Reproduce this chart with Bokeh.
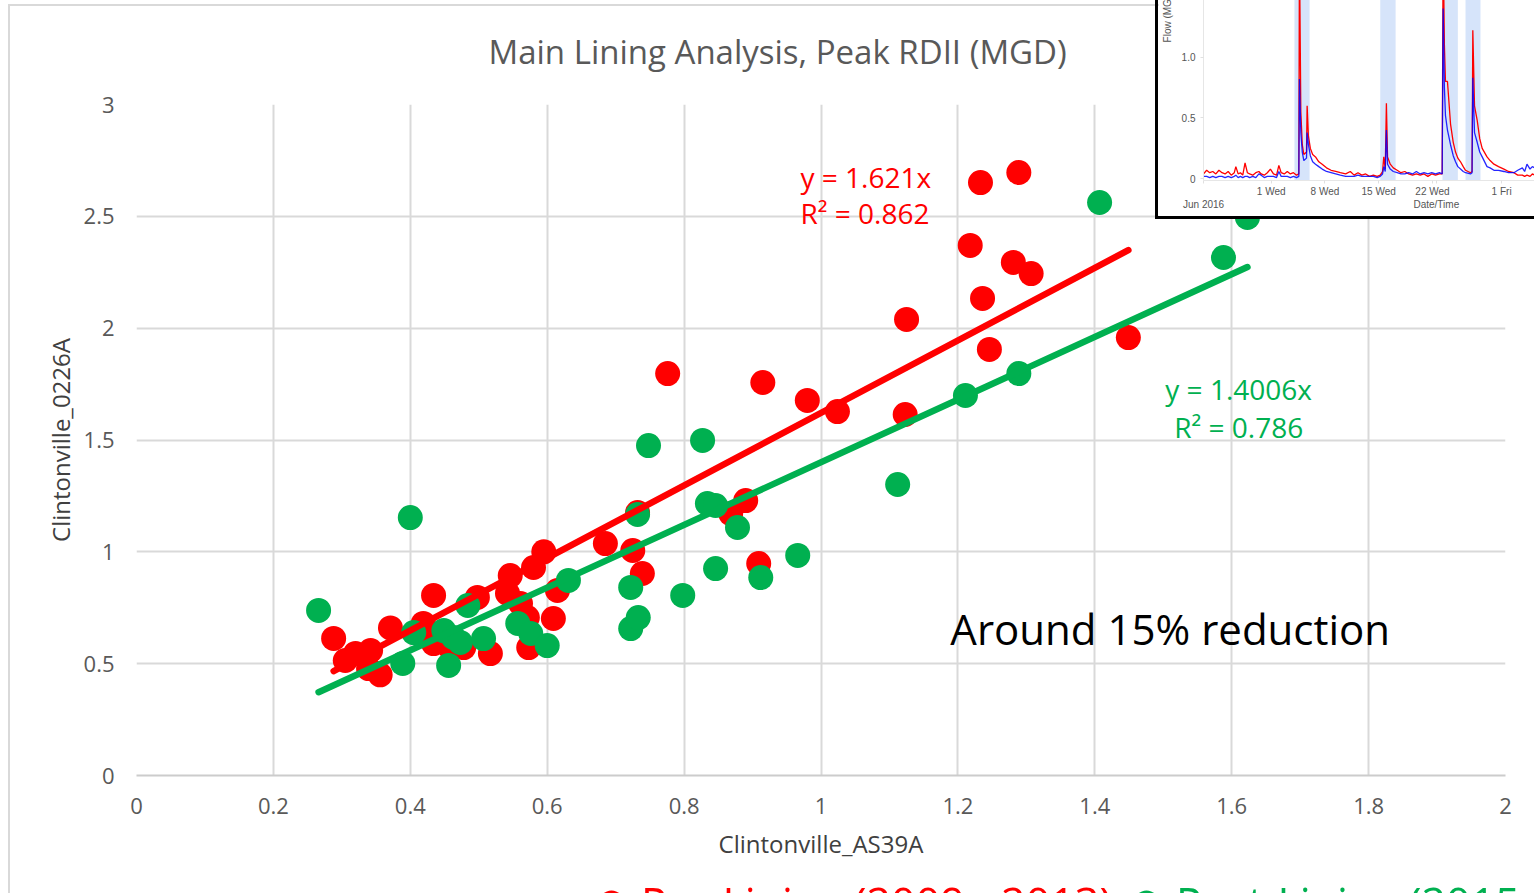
from bokeh.plotting import figure
from bokeh.models import Range1d, Label, FixedTicker, Legend, LegendItem, BoxAnnotation
from bokeh.embed import file_html
from bokeh.resources import INLINE

# ---------------- main scatter data ----------------
pre_x = [0.288, 0.305, 0.320, 0.339, 0.342, 0.356, 0.371, 0.419, 0.434, 0.434, 0.459,
         0.478, 0.498, 0.517, 0.542, 0.546, 0.561, 0.571, 0.573, 0.580, 0.595, 0.609,
         0.615, 0.685, 0.725, 0.732, 0.739, 0.776, 0.868, 0.890, 0.909, 0.915, 0.980,
         1.024, 1.123, 1.125, 1.218, 1.233, 1.236, 1.246, 1.281, 1.289, 1.307, 1.449]
pre_y = [0.613, 0.514, 0.546, 0.478, 0.559, 0.450, 0.660, 0.680, 0.805, 0.590, 0.568,
         0.572, 0.796, 0.545, 0.814, 0.894, 0.769, 0.706, 0.572, 0.930, 1.000, 0.702,
         0.827, 1.037, 1.006, 1.176, 0.903, 1.797, 1.171, 1.229, 0.948, 1.757, 1.677,
         1.627, 1.614, 2.039, 2.370, 2.651, 2.133, 1.905, 2.294, 2.696, 2.244, 1.958]
post_x = [0.266, 0.389, 0.400, 0.405, 0.449, 0.456, 0.463, 0.473, 0.484, 0.507, 0.557,
          0.576, 0.600, 0.631, 0.722, 0.722, 0.732, 0.733, 0.748, 0.798, 0.827, 0.834,
          0.846, 0.846, 0.878, 0.912, 0.966, 1.112, 1.211, 1.289, 1.407, 1.588, 1.623]
post_y = [0.738, 0.501, 1.153, 0.639, 0.648, 0.492, 0.617, 0.595, 0.760, 0.612, 0.680,
          0.635, 0.581, 0.872, 0.841, 0.657, 1.167, 0.706, 1.475, 0.805, 1.498, 1.216,
          1.207, 0.925, 1.109, 0.885, 0.984, 1.301, 1.699, 1.797, 2.562, 2.316, 2.495]
pre_slope = 1.621
pre_r2 = 0.862
post_slope = 1.4006
post_r2 = 0.786
x_ticks = [0, 0.2, 0.4, 0.6, 0.8, 1.0, 1.2, 1.4, 1.6, 1.8, 2.0]
y_ticks = [0, 0.5, 1.0, 1.5, 2.0, 2.5, 3.0]
title_text = "Main Lining Analysis, Peak RDII (MGD)"
pre_label = "Pre-Lining (2009 - 2013)"
post_label = "Post-Lining (2015 - 2016)"

# ---------------- inset (flow time series, days from 1 Jun 2016) ----------------
flow_days = [-8.8, -8.4, -8.0, -7.6, -7.2, -6.8, -6.4, -6.0, -5.6, -5.2, -4.8, -4.6, -4.3,
             -4.0, -3.7, -3.4, -3.1, -2.8, -2.4, -2.0, -1.6, -1.3, -0.9, -0.5, -0.1, 0.3,
             0.7, 1.0, 1.3, 1.7, 2.1, 2.5, 2.9, 3.3, 3.6, 3.68, 3.86, 4.05, 4.25, 4.6, 4.68,
             4.85, 5.1, 5.4, 5.77, 6.2, 6.64, 7.2, 7.8, 8.4, 9.0, 9.7, 10.3, 10.8, 11.3,
             11.8, 12.3, 12.8, 13.3, 13.8, 14.2, 14.5, 14.66, 14.85, 15.0, 15.15, 15.5,
             15.9, 16.4, 16.9, 17.4, 17.9, 18.4, 18.9, 19.4, 19.9, 20.4, 20.9, 21.4, 21.9,
             22.26, 22.39, 22.55, 22.69, 22.95, 23.35, 23.7, 24.0, 24.3, 24.65, 25.0, 25.3,
             25.95, 26.15, 26.25, 26.47, 26.82, 27.15, 27.47, 28.1, 28.5, 29.0, 29.6, 30.3,
             30.9, 31.6, 32.1, 32.7, 33.0, 33.3, 33.7, 34.0, 34.3]
flow_red = [0.04, 0.07, 0.05, 0.06, 0.04, 0.07, 0.05, 0.04, 0.06, 0.03, 0.05, 0.10, 0.04,
            0.05, 0.03, 0.13, 0.05, 0.04, 0.03, 0.05, 0.06, 0.04, 0.03, 0.05, 0.08, 0.04,
            0.03, 0.11, 0.05, 0.04, 0.06, 0.04, 0.05, 0.03, 0.04, 1.90, 0.55, 0.28, 0.20,
            0.22, 0.60, 0.35, 0.25, 0.20, 0.18, 0.14, 0.12, 0.09, 0.07, 0.06, 0.05, 0.04,
            0.06, 0.03, 0.05, 0.03, 0.04, 0.02, 0.03, 0.02, 0.03, 0.06, 0.18, 0.08, 0.62,
            0.18, 0.12, 0.09, 0.07, 0.05, 0.06, 0.04, 0.03, 0.04, 0.03, 0.04, 0.02, 0.04,
            0.03, 0.04, 0.04, 1.95, 1.10, 0.80, 0.80, 0.45, 0.30, 0.22, 0.17, 0.14, 0.10,
            0.07, 0.05, 0.06, 1.22, 0.60, 0.48, 0.33, 0.25, 0.18, 0.15, 0.12, 0.10, 0.08,
            0.06, 0.05, 0.03, 0.03, 0.02, 0.03, 0.02, 0.04, 0.03]
flow_blue = [0.02, 0.02, 0.01, 0.02, 0.01, 0.02, 0.02, 0.01, 0.02, 0.01, 0.02, 0.03, 0.01,
             0.02, 0.01, 0.02, 0.02, 0.01, 0.02, 0.01, 0.04, 0.03, 0.01, 0.02, 0.02, 0.02,
             0.01, 0.06, 0.02, 0.02, 0.02, 0.01, 0.02, 0.01, 0.02, 0.82, 0.38, 0.22, 0.15,
             0.17, 0.38, 0.28, 0.19, 0.14, 0.12, 0.10, 0.08, 0.06, 0.05, 0.04, 0.03, 0.02,
             0.02, 0.02, 0.03, 0.02, 0.02, 0.02, 0.02, 0.01, 0.02, 0.04, 0.10, 0.06, 0.40,
             0.12, 0.08, 0.06, 0.05, 0.04, 0.04, 0.05, 0.04, 0.06, 0.04, 0.05, 0.04, 0.05,
             0.04, 0.05, 0.04, 1.40, 0.75, 0.52, 0.40, 0.28, 0.19, 0.14, 0.10, 0.08, 0.06,
             0.05, 0.04, 0.05, 0.83, 0.38, 0.30, 0.22, 0.18, 0.10, 0.09, 0.07, 0.07, 0.06,
             0.05, 0.05, 0.07, 0.09, 0.06, 0.12, 0.08, 0.10, 0.09]
rain_start = [3.03, 14.2, 22.3, 25.3]
rain_end = [5.0, 16.2, 24.3, 27.25]
inset_x_ticks = [-8.8, 0, 7, 14, 21, 21.5, 30]
inset_x_labels = ["\nJun 2016", "1 Wed", "8 Wed", "15 Wed", "22 Wed", "\nDate/Time", "1 Fri"]
inset_y_ticks = [0, 0.5, 1.0]
inset_y_labels = ["0", "0.5", "1.0"]

FONT = "Open Sans"
RED = "#FF0000"
GREEN = "#00B050"
FRAME_LINE = "linear-gradient(#d9d9d9, #d9d9d9)"

# ---------------- main figure ----------------
p = figure(frame_width=1369, frame_height=671,
           min_border_left=136, min_border_right=29, min_border_top=104, min_border_bottom=118,
           x_range=Range1d(0, 2), y_range=Range1d(0, 3),
           output_backend="svg", toolbar_location=None, tools="",
           background_fill_color="white", border_fill_color=None,
           outline_line_color=None)
p.styles = {"background": f"{FRAME_LINE} 8px 4px / 2px 889px no-repeat, "
                          f"{FRAME_LINE} 8px 4px / 1526px 2px no-repeat, #ffffff"}

p.title.text = title_text
p.title.align = "left"
p.title.offset = 352
p.title.vertical_align = "top"
p.title.standoff = 57
p.title.text_font = FONT
p.title.text_font_size = "33px"
p.title.text_font_style = "normal"
p.title.text_color = "#595959"

xt = FixedTicker(ticks=x_ticks)
yt = FixedTicker(ticks=y_ticks)
p.xaxis.ticker = xt
p.yaxis.ticker = yt
p.xgrid.ticker = xt
p.ygrid.ticker = yt
p.xaxis.major_label_overrides = {t: f"{t:g}" for t in x_ticks}
p.yaxis.major_label_overrides = {t: f"{t:g}" for t in y_ticks}
for g in (p.xgrid[0], p.ygrid[0]):
    g.grid_line_color = "#d9d9d9"
    g.grid_line_width = 2
for ax in (p.xaxis[0], p.yaxis[0]):
    ax.major_tick_line_color = None
    ax.minor_tick_line_color = None
    ax.major_label_text_font = FONT
    ax.major_label_text_font_size = "22px"
    ax.major_label_text_color = "#595959"
    ax.axis_label_text_font = FONT
    ax.axis_label_text_font_size = "24px"
    ax.axis_label_text_font_style = "normal"
    ax.axis_label_text_color = "#404040"
p.yaxis.axis_line_color = None
p.yaxis.major_tick_out = 0
p.xaxis.axis_line_color = "#cccccc"
p.xaxis.axis_line_width = 2
p.xaxis.major_label_standoff = 16
p.yaxis.major_label_standoff = 22
p.xaxis.axis_label = "Clintonville_AS39A"
p.yaxis.axis_label = "Clintonville_0226A"
p.xaxis.axis_label_standoff = 10
p.yaxis.axis_label_standoff = 4

p.scatter(pre_x, pre_y, size=25, fill_color=RED, line_color=None)
p.scatter(post_x, post_y, size=25, fill_color=GREEN, line_color=None)

pre_fit_x = [min(pre_x), max(pre_x)]
post_fit_x = [min(post_x), max(post_x)]
p.line(pre_fit_x, [pre_slope * v for v in pre_fit_x], line_color=RED, line_width=6.5, line_cap="round")
p.line(post_fit_x, [post_slope * v for v in post_fit_x], line_color=GREEN, line_width=6.5, line_cap="round")

p.add_layout(Label(x=0.970, y=2.678, text=f"y = {pre_slope}x", text_baseline="middle",
                   text_font=FONT, text_font_size="28px", text_color=RED))
p.add_layout(Label(x=0.970, y=2.513, text=f"R² = {pre_r2}", text_baseline="middle",
                   text_font=FONT, text_font_size="28px", text_color=RED))
p.add_layout(Label(x=1.503, y=1.726, text=f"y = {post_slope}x", text_baseline="middle",
                   text_font=FONT, text_font_size="28px", text_color=GREEN))
p.add_layout(Label(x=1.516, y=1.556, text=f"R² = {post_r2}", text_baseline="middle",
                   text_font=FONT, text_font_size="28px", text_color=GREEN))
p.add_layout(Label(x=1.189, y=0.657, text="Around 15% reduction", text_baseline="middle",
                   text_font=FONT, text_font_size="42px", text_color="#000000"))

# ---------------- legend strip (bottom, cut by the window edge) ----------------
lf = figure(frame_width=1534, frame_height=80, min_border=0,
            x_range=Range1d(0, 1534), y_range=Range1d(0, 80),
            x_axis_location=None, y_axis_location=None,
            output_backend="svg", toolbar_location=None, tools="",
            background_fill_color=None, border_fill_color=None, outline_line_color=None)
lf.xgrid.visible = False
lf.ygrid.visible = False
lf.styles = {"position": "fixed", "left": "0px", "top": "860px", "z-index": "5"}
r_pre_key = lf.scatter(pre_x, pre_y, size=25, fill_color=RED, line_color=None, visible=False)
r_post_key = lf.scatter(post_x, post_y, size=25, fill_color=GREEN, line_color=None, visible=False)
for item, loc, col in ((LegendItem(label=pre_label, renderers=[r_pre_key]), (581, 8), RED),
                       (LegendItem(label=post_label, renderers=[r_post_key]), (1116, 8), GREEN)):
    lg = Legend(items=[item], location=loc, orientation="horizontal",
                label_text_color=col, label_text_font=FONT, label_text_font_size="43px",
                glyph_width=60, glyph_height=60, label_standoff=0,
                inactive_fill_alpha=0.0,
                background_fill_alpha=0, border_line_color=None, padding=0, margin=0)
    lf.add_layout(lg)

# ---------------- inset figure ----------------
ins = figure(frame_width=331, frame_height=330,
             min_border_left=45, min_border_right=0, min_border_top=0, min_border_bottom=36,
             x_range=Range1d(-8.81, 34.28), y_range=Range1d(-0.014, 2.698),
             output_backend="svg", toolbar_location=None, tools="",
             background_fill_color="white", border_fill_color="white",
             outline_line_color=None)
ins.styles = {"position": "absolute", "left": "1158px", "top": "-150px",
              "outline": "3px solid #000000", "z-index": "10"}
ins.xgrid.visible = False
ins.ygrid.visible = False
for s, e in zip(rain_start, rain_end):
    ins.add_layout(BoxAnnotation(left=s, right=e, fill_color="#d6e4fa", fill_alpha=1.0,
                                 line_color=None, level="underlay"))
ins.line(flow_days, flow_red, line_color="#ff0000", line_width=1.3)
ins.line(flow_days, flow_blue, line_color="#0000ff", line_width=1.3, line_alpha=0.85)

ins.xaxis.ticker = FixedTicker(ticks=inset_x_ticks)
ins.xaxis.major_label_overrides = dict(zip(inset_x_ticks, inset_x_labels))
ins.yaxis.ticker = FixedTicker(ticks=inset_y_ticks)
ins.yaxis.major_label_overrides = dict(zip(inset_y_ticks, inset_y_labels))
for ax in (ins.xaxis[0], ins.yaxis[0]):
    ax.axis_line_color = "#e6e6e6"
    ax.major_tick_line_color = "#e0e0e0"
    ax.major_tick_out = 3
    ax.major_tick_in = 0
    ax.minor_tick_line_color = None
    ax.major_label_text_font = "Liberation Sans"
    ax.major_label_text_font_size = "10px"
    ax.major_label_text_color = "#555555"
ins.xaxis.major_label_standoff = 2
ins.yaxis.major_label_standoff = 5
ins.yaxis.axis_label = "Flow (MGD)"
ins.yaxis.axis_label_text_font = "Liberation Sans"
ins.yaxis.axis_label_text_font_size = "10px"
ins.yaxis.axis_label_text_font_style = "normal"
ins.yaxis.axis_label_text_color = "#555555"
ins.yaxis.axis_label_standoff = 6

open("out.html", "w").write(file_html([p, ins, lf], INLINE))
